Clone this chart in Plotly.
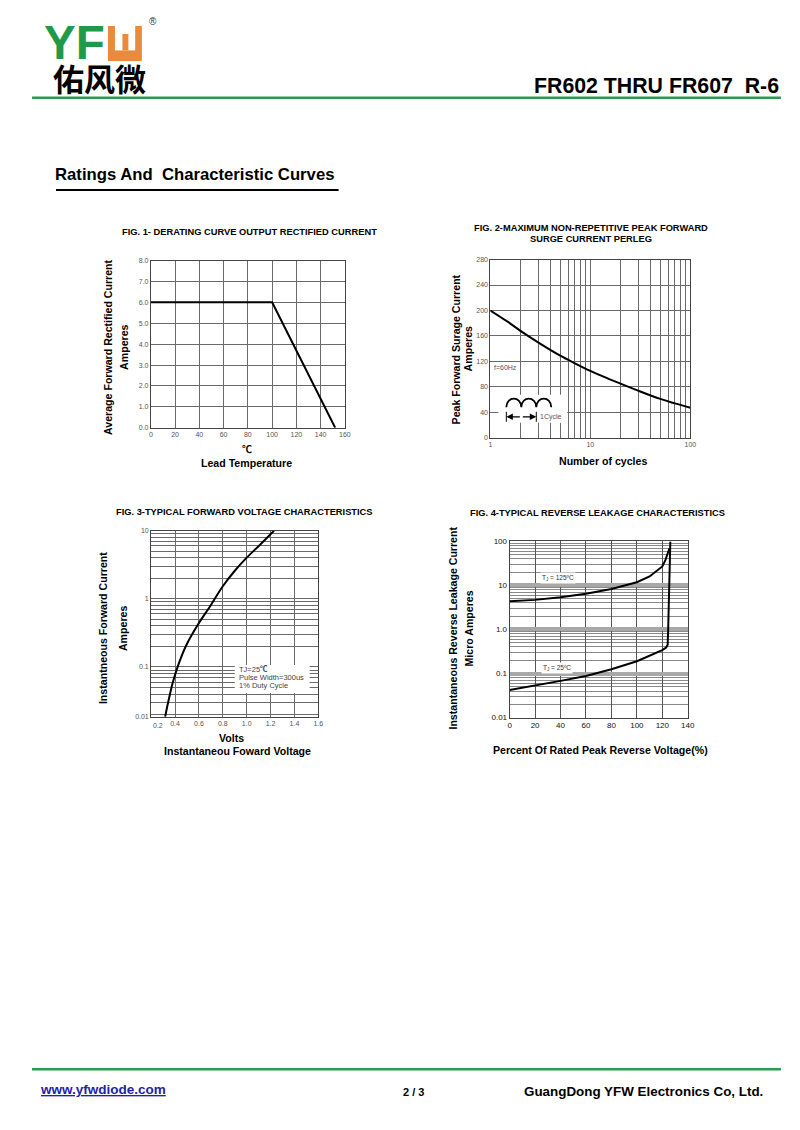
import plotly.graph_objects as go

# page is 800x1130; the browser body has an 8px margin, so the figure is 784x1114
W, H = 784, 1114
OFF = 8
SX, SY, OY = 0.99, 0.995, 1.0   # empirical capture scale compensation
FONT = "Liberation Sans, Arial, Noto Sans CJK SC, sans-serif"

def px(x):
    return (x / SX - OFF) / W

def py(y):
    return 1 - ((y - OY) / SY - OFF) / H

# ---------------- data ----------------
# Fig 1 derating curve
f1_temp = [0, 100, 152]
f1_current = [6.0, 6.0, 0.0]
f1_xticks = [0, 20, 40, 60, 80, 100, 120, 140, 160]
f1_yticks = [0, 1, 2, 3, 4, 5, 6, 7, 8]
f1_ylabels = ["0.0", "1.0", "2.0", "3.0", "4.0", "5.0", "6.0", "7.0", "8.0"]

# Fig 2 surge current
f2_cycles = [1, 1.5, 2, 3, 5, 7, 10, 15, 20, 30, 50, 70, 100]
f2_current = [200, 182, 168, 150, 129, 117, 105, 93, 85, 74, 61, 54, 47]
f2_yticks = [0, 40, 80, 120, 160, 200, 240, 280]
f2_xticks = [1, 10, 100]
f2_minor = [2, 3, 4, 5, 6, 7, 8, 9, 20, 30, 40, 50, 60, 70, 80, 90]

# Fig 3 forward voltage
f3_volts = [0.317, 0.345, 0.381, 0.429, 0.498, 0.596, 0.694, 0.8, 0.897, 0.992, 1.112, 1.229]
f3_amps = [0.0185, 0.0318, 0.059, 0.109, 0.215, 0.43, 0.78, 1.53, 2.54, 3.89, 6.24, 10.0]
f3_xticks = [0.4, 0.6, 0.8, 1.0, 1.2, 1.4, 1.6]
f3_yticks = [0.0185, 0.1, 1, 10]
f3_ylabels = ["0.01", "0.1", "1", "10"]
f3_minor = [0.02, 0.03, 0.04, 0.05, 0.06, 0.07, 0.08, 0.09,
            0.2, 0.3, 0.4, 0.5, 0.6, 0.7, 0.8, 0.9,
            2, 3, 4, 5, 6, 7, 8, 9]

# Fig 4 reverse leakage
f4_pct_125 = [0, 20, 40, 60, 80, 100, 110, 120, 122.5, 124.5, 125.6]
f4_ua_125 = [4.4, 4.7, 5.4, 6.5, 8.3, 11.8, 16, 27, 38, 55, 70]
f4_pct_25 = [0, 20, 40, 60, 80, 100, 110, 120, 123, 124.2, 124.6, 125.4, 126.3]
f4_ua_25 = [0.042, 0.053, 0.068, 0.088, 0.125, 0.19, 0.25, 0.34, 0.39, 0.45, 1.0, 10, 100]
f4_xticks = [0, 20, 40, 60, 80, 100, 120, 140]
f4_yticks = [0.01, 0.1, 1, 10, 100]
f4_ylabels = ["0.01", "0.1", "1.0", "10", "100"]
f4_minor = [k * d for d in (0.01, 0.1, 1, 10) for k in range(2, 10)]

# ---------------- figure ----------------
fig = go.Figure()

fig.add_trace(go.Scatter(x=f1_temp, y=f1_current, mode="lines",
                         line=dict(color="black", width=2), xaxis="x", yaxis="y"))
fig.add_trace(go.Scatter(x=f2_cycles, y=f2_current, mode="lines", line_shape="spline",
                         line=dict(color="black", width=2), xaxis="x2", yaxis="y2"))
fig.add_trace(go.Scatter(x=f3_volts, y=f3_amps, mode="lines", line_shape="spline",
                         line=dict(color="black", width=2), xaxis="x3", yaxis="y3"))
fig.add_trace(go.Scatter(x=f4_pct_125, y=f4_ua_125, mode="lines",
                         line=dict(color="black", width=2), xaxis="x4", yaxis="y4"))
fig.add_trace(go.Scatter(x=f4_pct_25, y=f4_ua_25, mode="lines",
                         line=dict(color="black", width=2), xaxis="x4", yaxis="y4"))

tickfont = dict(family=FONT, size=7, color="#555")
grid = "#6a6a6a"
frame = "#444"

common = dict(showline=True, mirror=True, linecolor=frame, linewidth=1,
              ticks="", showgrid=True, gridcolor=grid, gridwidth=1,
              zeroline=False, tickfont=tickfont, fixedrange=True)
f4font = dict(family=FONT, size=8, color="#111")

layout = dict(
    width=W, height=H, margin=dict(l=0, r=0, t=0, b=0),
    paper_bgcolor="white", plot_bgcolor="white", showlegend=False,
    # Fig 1
    xaxis=dict(domain=[px(149), px(343.3)], range=[0, 160], tickvals=f1_xticks,
               anchor="y", **common),
    yaxis=dict(domain=[py(426), py(258.3)], range=[0, 8], tickvals=f1_yticks,
               ticktext=f1_ylabels, anchor="x", **common),
    # Fig 2
    xaxis2=dict(domain=[px(489), px(689.3)], type="log", range=[0, 2], tickvals=f2_xticks,
                ticktext=["1", "10", "100"], anchor="y2",
                minor=dict(tickvals=f2_minor, showgrid=True, gridcolor=grid, gridwidth=1),
                **common),
    yaxis2=dict(domain=[py(436), py(257.3)], range=[0, 280], tickvals=f2_yticks,
                anchor="x2", **common),
    # Fig 3
    xaxis3=dict(domain=[px(149.3), px(316.7)], range=[0.2, 1.6], tickvals=f3_xticks,
                ticktext=["0.4", "0.6", "0.8", "1.0", "1.2", "1.4", "1.6"], anchor="y3",
                **common),
    yaxis3=dict(domain=[py(716), py(529.3)], type="log", range=[-1.7328, 1],
                tickvals=f3_yticks, ticktext=f3_ylabels, anchor="x3",
                minor=dict(tickvals=f3_minor, showgrid=True, gridcolor=grid, gridwidth=1),
                **common),
    # Fig 4
    xaxis4=dict(domain=[px(508.3), px(686.7)], range=[0, 140], tickvals=f4_xticks,
                anchor="y4", **{**common, "gridcolor": "#555", "tickfont": f4font}),
    yaxis4=dict(domain=[py(716.7), py(540)], type="log", range=[-2, 2],
                tickvals=f4_yticks, ticktext=f4_ylabels, anchor="x4",
                minor=dict(tickvals=f4_minor, showgrid=True, gridcolor="#8a8a8a", gridwidth=1),
                **{**common, "gridcolor": "#a8a8a8", "gridwidth": 4, "tickfont": f4font}),
)
fig.update_layout(**layout)

ann = []
shapes = []

def text(x, y, s, size, color="black", bold=False, xanchor="center", yanchor="middle",
         angle=0, family=FONT, bg=None):
    d = dict(xref="paper", yref="paper", x=px(x), y=py(y), showarrow=False,
             text=("<b>%s</b>" % s) if bold else s, xanchor=xanchor, yanchor=yanchor,
             textangle=angle, font=dict(family=family, size=size, color=color))
    if bg:
        d["bgcolor"] = bg
    ann.append(d)

def line(x0, y0, x1, y1, color="black", width=1):
    shapes.append(dict(type="line", xref="paper", yref="paper", x0=px(x0), y0=py(y0),
                       x1=px(x1), y1=py(y1), line=dict(color=color, width=width)))

def rect(x0, y0, x1, y1, color, layer="above"):
    shapes.append(dict(type="rect", xref="paper", yref="paper", x0=px(x0), y0=py(y0),
                       x1=px(x1), y1=py(y1), fillcolor=color, line=dict(width=0), layer=layer))

# ---- header ----
GREEN = "#2a9a4c"
ORANGE = "#e98a3c"
text(40, 40, "YF", 47.5, color="#1f9a49", bold=True, xanchor="left")
rect(106, 23, 140, 58, ORANGE)
rect(113, 23, 133.3, 47.5, "white")
rect(120.5, 31, 126.5, 47.5, ORANGE)
text(151, 18, "®", 10, color="#333")
text(97.5, 75, "佑风微", 31, bold=True, family="Noto Sans CJK SC")
text(780, 83, "FR602 THRU FR607\u00a0\u00a0R-6", 21.3, bold=True, xanchor="right")
line(30, 95, 780, 95, color=GREEN, width=2.5)

text(51, 172, "Ratings And\u00a0\u00a0Characteristic Curves", 16.7, bold=True, xanchor="left")
line(54, 187.5, 337, 187.5, width=2)

# ---- footer ----
line(30, 1069.5, 780, 1069.5, color=GREEN, width=2.5)
text(36, 1090, "<u>www.yfwdiode.com</u>", 13.5, color="#2222aa", bold=True, xanchor="left")
text(412, 1092, "2 / 3", 11, bold=True)
text(521, 1092, "GuangDong YFW Electronics Co, Ltd.", 13.4, bold=True, xanchor="left")

TSZ = 9.3
ASZ = 10.6
# ---- Fig 1 texts ----
text(248, 230, "FIG. 1- DERATING CURVE OUTPUT RECTIFIED CURRENT", TSZ, bold=True)
text(106, 345, "Average Forward Rectified Current", ASZ, bold=True, angle=-90)
text(122, 345, "Amperes", ASZ, bold=True, angle=-90)
text(245, 448, "℃", 10, bold=True)
text(245, 461, "Lead Temperature", ASZ, bold=True)

# ---- Fig 2 texts ----
text(590, 226, "FIG. 2-MAXIMUM NON-REPETITIVE PEAK FORWARD", TSZ, bold=True)
text(590, 237, "SURGE CURRENT PERLEG", TSZ, bold=True)
text(455, 347, "Peak Forward Surage Current", ASZ, bold=True, angle=-90)
text(467, 347, "Amperes", ASZ, bold=True, angle=-90)
text(602, 459, "Number of cycles", ASZ, bold=True)
# inset
rect(497, 393, 566, 421, "white")
text(491, 366, "f=60Hz", 7, color="#555", xanchor="left")
hx = [505, 520, 535, 550]
ytop, ybot = 394, 405.5
path = "M %f %f" % (px(hx[0]), py(ybot))
for a, b in zip(hx[:-1], hx[1:]):
    path += " C %f %f %f %f %f %f" % (px(a), py(ytop), px(b), py(ytop), px(b), py(ybot))
shapes.append(dict(type="path", xref="paper", yref="paper", path=path,
                   line=dict(color="black", width=1.8)))
line(505, 410, 505, 420, width=1)
line(535, 410, 535, 420, width=1)
for xe, ax in ((505, 15), (535, -15)):
    ann.append(dict(xref="paper", yref="paper", x=px(xe), y=py(415), ax=ax, ay=0,
                    showarrow=True, arrowhead=2, arrowsize=1, arrowwidth=1.3,
                    arrowcolor="black", text=""))
text(537, 415, "1Cycle", 7, color="#555", xanchor="left")

# ---- Fig 3 texts ----
text(243, 511, "FIG. 3-TYPICAL FORWARD VOLTAGE CHARACTERISTICS", TSZ, bold=True)
text(101, 627, "Instantneous Forward Current", ASZ, bold=True, angle=-90)
text(121, 627, "Amperes", ASZ, bold=True, angle=-90)
text(156, 725, "0.2", 7, color="#555")
text(230, 737, "Volts", ASZ, bold=True)
text(236, 750, "Instantaneou Foward Voltage", ASZ, bold=True)
rect(233, 664, 308, 692, "white")
text(235, 669, "TJ=25<b>℃</b>", 7.5, color="#444", xanchor="left")
text(235, 677, "Pulse Width=300us", 7.5, color="#444", xanchor="left")
text(235, 685, "1% Duty Cycle", 7.5, color="#444", xanchor="left")

# ---- Fig 4 texts ----
text(596, 512, "FIG. 4-TYPICAL REVERSE LEAKAGE CHARACTERISTICS", TSZ, bold=True)
text(452, 627, "Instantaneous Reverse Leakage Current", ASZ, bold=True, angle=-90)
text(468, 627, "Micro Amperes", ASZ, bold=True, angle=-90)
text(599, 749, "Percent Of Rated Peak Reverse Voltage(%)", ASZ, bold=True)
text(557, 577, "T<sub>J</sub> = 125ºC", 6.5, color="#333", bg="white")
text(556, 666.5, "T<sub>J</sub> = 25ºC", 6.5, color="#333", bg="white")

fig.update_layout(annotations=ann, shapes=shapes)
fig.write_html("out.html")
